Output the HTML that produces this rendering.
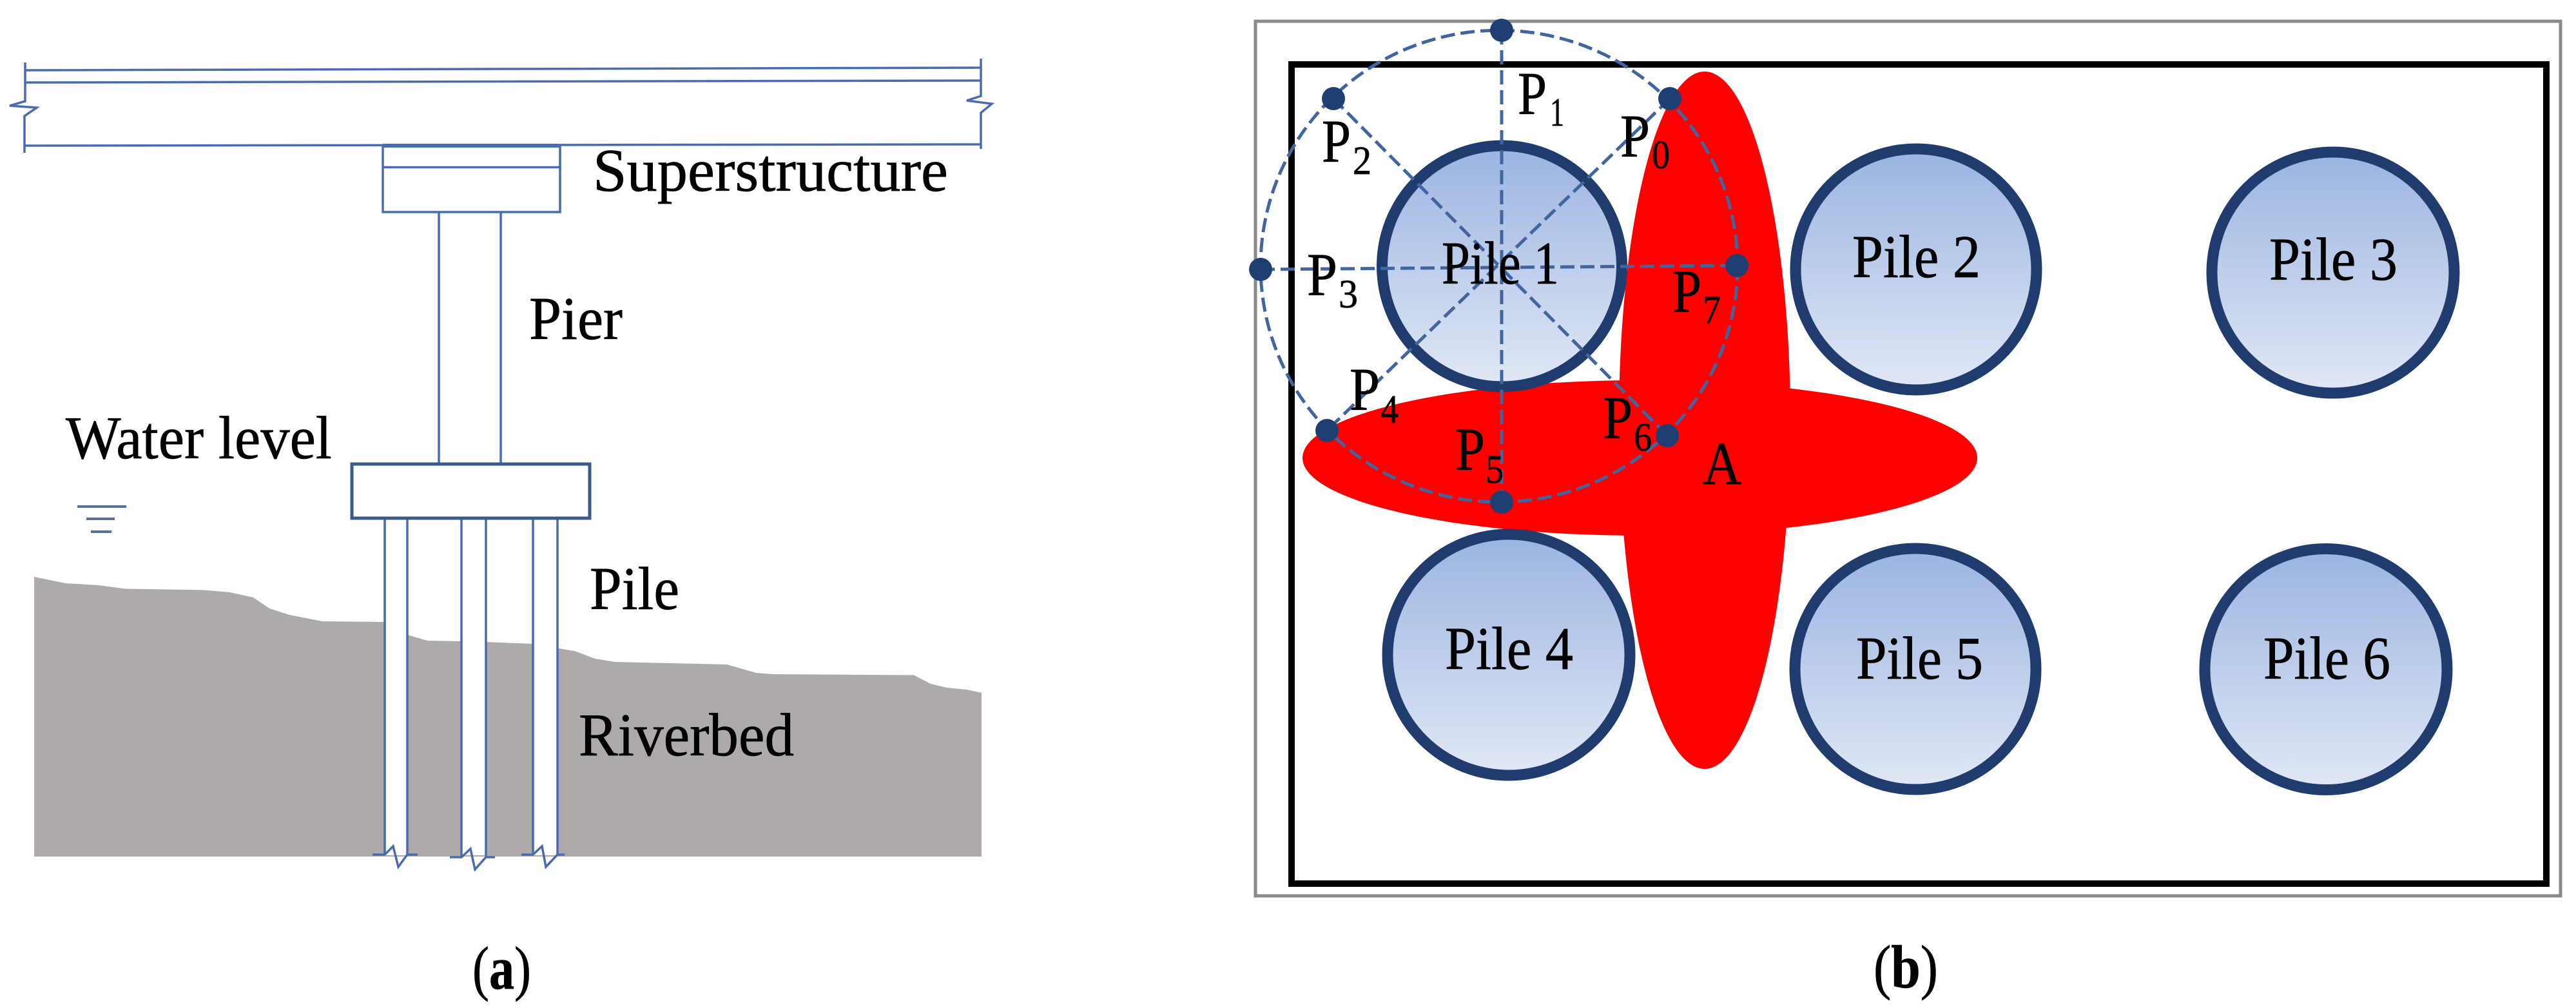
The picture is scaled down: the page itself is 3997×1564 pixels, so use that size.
<!DOCTYPE html>
<html><head><meta charset="utf-8"><style>
html,body{margin:0;padding:0;background:#fff}
svg{display:block}
text{font-family:"Liberation Serif",serif;fill:#000;font-size:94px;stroke:#000;stroke-width:.7}
.s{font-size:62px}
.l{fill:none;stroke:#4a6bb0;stroke-width:3.5}
.d{fill:none;stroke:#40659f;stroke-width:5;stroke-dasharray:22 9}
.p{fill:url(#g);stroke:#203c6e;stroke-width:17}
.n{fill:#1f3f73}
</style></head><body>
<svg width="3997" height="1564" viewBox="0 0 3997 1564" xmlns="http://www.w3.org/2000/svg">
<defs><linearGradient id="g" x1="0" y1="0" x2="0" y2="1"><stop offset="0" stop-color="#9ab4e0"/><stop offset="1" stop-color="#e1e8f6"/></linearGradient></defs>
<rect width="3997" height="1564" fill="#fff"/>

<!-- panel a -->
<path d="M53 895L102 905L153 908L194 913.5L316 915.5L357 919L393 927L418 944L449 954L500 964L597 965L632 985L663 994L716 995L754 996L827 999L867 1006L893 1010.5L923 1022L954 1027L1128 1031L1173 1044L1199 1046L1418 1047.5L1444 1061L1469 1067L1500 1070L1523 1075V1329H53Z" fill="#aeaaaa"/>
<rect x="597" y="804" width="35" height="523" fill="#fff"/>
<rect x="716" y="804" width="38" height="523" fill="#fff"/>
<rect x="827" y="804" width="38" height="523" fill="#fff"/>
<g class="l">
<path d="M39 109L1522 105M39 128L1522 125M38 226L1521 224"/>
<path d="M39 97V157L15 164L57 167L38 180V237"/>
<path d="M1522 91V149L1500 156L1539 161L1522 175V231"/>
<rect x="594" y="227" width="275" height="102"/>
<path d="M594 226H869" stroke-width="6"/>
<path d="M594 259.5H869"/>
<path d="M681 329V718M777 329V718"/>
<path d="M597 804V1326M632 804V1326M716 804V1330M754 804V1330M827 804V1326M865 804V1326"/>
<path d="M578 1326H597L610 1313L618 1345L632 1326H648"/>
<path d="M698 1330H716L730 1317L737 1349L754 1330H768"/>
<path d="M809 1326H827L841 1313L847 1345L865 1326H876"/>
</g>
<rect x="546" y="720" width="369" height="84" fill="none" stroke="#3a5a8c" stroke-width="5"/>
<path d="M120 786H196M134 805H178M141 825H173" fill="none" stroke="#557099" stroke-width="4"/>

<!-- panel b -->
<rect x="1948" y="33" width="2025" height="1357" fill="#fff" stroke="#8a8a8a" stroke-width="5"/>
<rect x="2004" y="100" width="1947" height="1271" fill="#fff" stroke="#000" stroke-width="10"/>
<ellipse cx="2645" cy="652" rx="133" ry="541" fill="#f00"/>
<ellipse cx="2544.5" cy="710.5" rx="523.5" ry="120.5" fill="#f00"/>
<ellipse class="p" cx="2330.5" cy="413" rx="186" ry="187"/>
<ellipse class="p" cx="2973" cy="418" rx="187" ry="187"/>
<ellipse class="p" cx="3620" cy="423" rx="188" ry="187"/>
<ellipse class="p" cx="2341" cy="1016" rx="188" ry="187"/>
<ellipse class="p" cx="2972" cy="1038" rx="187" ry="187"/>
<ellipse class="p" cx="3609" cy="1038.5" rx="188" ry="187"/>

<path class="d" d="M2330 47V779M1956 418L2695 412M2069 153L2587 676M2591 153L2059 668"/>
<ellipse class="d" cx="2326" cy="413" rx="370" ry="366"/>
<g class="n">
<circle cx="2330" cy="47" r="18"/><circle cx="2591" cy="153" r="18"/><circle cx="2069" cy="153" r="18"/>
<circle cx="1956" cy="418" r="18"/><circle cx="2695" cy="412" r="18"/><circle cx="2059" cy="668" r="18"/>
<circle cx="2587" cy="676" r="18"/><circle cx="2330" cy="779" r="18"/>
</g>

<g transform="translate(0,3)">
<text x="920" y="293" textLength="551" lengthAdjust="spacingAndGlyphs">Superstructure</text>
<text x="821" y="523" textLength="145" lengthAdjust="spacingAndGlyphs">Pier</text>
<text x="102" y="708" textLength="413" lengthAdjust="spacingAndGlyphs">Water level</text>
<text x="915" y="942" textLength="139" lengthAdjust="spacingAndGlyphs">Pile</text>
<text x="898" y="1169" textLength="334" lengthAdjust="spacingAndGlyphs">Riverbed</text>
<text x="733" y="1531" textLength="91" lengthAdjust="spacingAndGlyphs">(<tspan font-weight="bold">a</tspan>)</text>
<text x="2355" y="174" textLength="45" lengthAdjust="spacingAndGlyphs">P</text><text class="s" x="2405" y="192" textLength="22" lengthAdjust="spacingAndGlyphs">1</text>
<text x="2051" y="248" textLength="45" lengthAdjust="spacingAndGlyphs">P</text><text class="s" x="2099" y="267" textLength="29" lengthAdjust="spacingAndGlyphs">2</text>
<text x="2514" y="240" textLength="46" lengthAdjust="spacingAndGlyphs">P</text><text class="s" x="2563" y="258" textLength="28" lengthAdjust="spacingAndGlyphs">0</text>
<text x="2028" y="455" textLength="47" lengthAdjust="spacingAndGlyphs">P</text><text class="s" x="2077" y="474" textLength="30" lengthAdjust="spacingAndGlyphs">3</text>
<text x="2595" y="481" textLength="45" lengthAdjust="spacingAndGlyphs">P</text><text class="s" x="2642" y="499" textLength="28" lengthAdjust="spacingAndGlyphs">7</text>
<text x="2094" y="633" textLength="47" lengthAdjust="spacingAndGlyphs">P</text><text class="s" x="2142" y="653" textLength="28" lengthAdjust="spacingAndGlyphs">4</text>
<text x="2487" y="677" textLength="46" lengthAdjust="spacingAndGlyphs">P</text><text class="s" x="2535" y="696" textLength="28" lengthAdjust="spacingAndGlyphs">6</text>
<text x="2258" y="726" textLength="46" lengthAdjust="spacingAndGlyphs">P</text><text class="s" x="2305" y="746" textLength="28" lengthAdjust="spacingAndGlyphs">5</text>
<text x="2642" y="748" textLength="60" lengthAdjust="spacingAndGlyphs">A</text>
<text x="2237" y="437" textLength="182" lengthAdjust="spacingAndGlyphs">Pile 1</text>
<text x="2874" y="427" textLength="199" lengthAdjust="spacingAndGlyphs">Pile 2</text>
<text x="3521" y="431" textLength="199" lengthAdjust="spacingAndGlyphs">Pile 3</text>
<text x="2242" y="1035" textLength="199" lengthAdjust="spacingAndGlyphs">Pile 4</text>
<text x="2880" y="1050" textLength="197" lengthAdjust="spacingAndGlyphs">Pile 5</text>
<text x="3512" y="1050" textLength="197" lengthAdjust="spacingAndGlyphs">Pile 6</text>
<text x="2907" y="1529" textLength="100" lengthAdjust="spacingAndGlyphs">(<tspan font-weight="bold">b</tspan>)</text>
</g>
</svg>
</body></html>
